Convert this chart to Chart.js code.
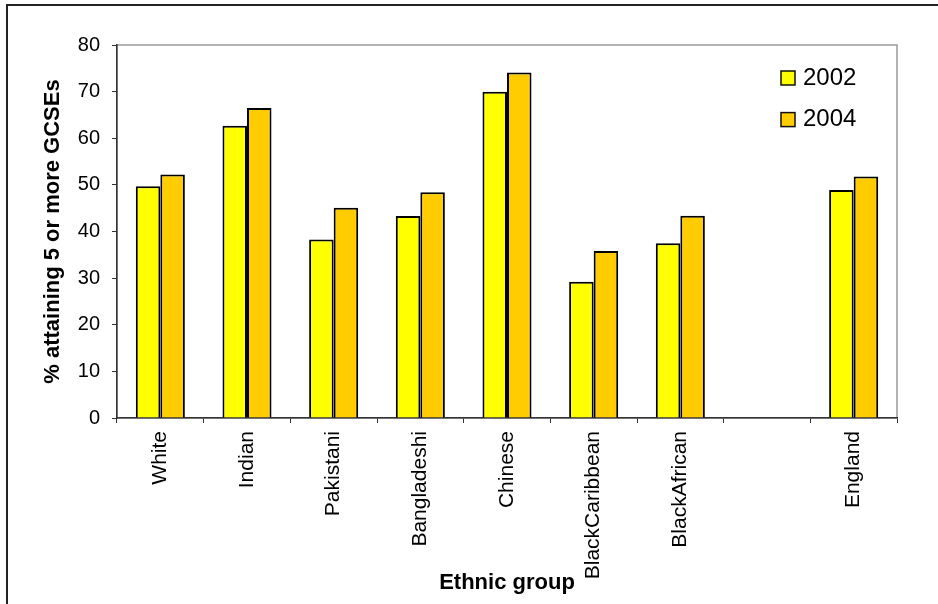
<!DOCTYPE html>
<html>
<head>
<meta charset="utf-8">
<script src="https://cdn.jsdelivr.net/npm/chart.js@4/dist/chart.umd.min.js"></script>
<style>
  html, body { margin: 0; padding: 0; background: #ffffff; }
  #wrap { width: 938px; height: 604px; position: relative; }
</style>
</head>
<body>
<div id="wrap"><canvas id="gcse" width="938" height="604"></canvas></div>
<script>
// Ethnic groups (the blank entry leaves a gap before the England total)
const categories = ['White', 'Indian', 'Pakistani', 'Bangladeshi', 'Chinese', 'BlackCaribbean', 'BlackAfrican', '', 'England'];
// % of pupils attaining 5 or more GCSEs
const pct2002 = [49.7, 62.7, 38.3, 43.3, 70.0, 29.2, 37.5, null, 48.9];
const pct2004 = [52.2, 66.5, 45.1, 48.4, 74.1, 35.8, 43.4, null, 51.8];
const seriesLabels = ['2002', '2004'];
const yTicks = [0, 10, 20, 30, 40, 50, 60, 70, 80];

const FONT = "'Liberation Sans', Arial, Helvetica, sans-serif";
const AXIS = '#333333';

// Frame, plot-area outline and the inset legend
const decorations = {
  id: 'decorations',
  beforeDraw(chart) {
    const { ctx, chartArea: a } = chart;
    ctx.save();
    // outer frame (left and top edges)
    ctx.strokeStyle = '#222222';
    ctx.lineWidth = 2;
    ctx.beginPath();
    ctx.moveTo(7, 604);
    ctx.lineTo(7, 5);
    ctx.lineTo(938, 5);
    ctx.stroke();
    // plot area outline
    ctx.strokeStyle = '#9a9a9a';
    ctx.lineWidth = 1.5;
    ctx.strokeRect(a.left, a.top, a.right - a.left, a.bottom - a.top);
    ctx.restore();
  },
  afterDraw(chart) {
    const { ctx } = chart;
    ctx.save();
    ctx.font = '24px ' + FONT;
    ctx.textBaseline = 'alphabetic';
    ctx.textAlign = 'left';
    chart.data.datasets.forEach((ds, i) => {
      const y = 71 + i * 41.6;
      ctx.fillStyle = ds.backgroundColor;
      ctx.fillRect(781, y, 14, 14);
      ctx.strokeStyle = '#111111';
      ctx.lineWidth = 1.5;
      ctx.strokeRect(781, y, 14, 14);
      ctx.fillStyle = '#000000';
      ctx.fillText(ds.label, 803, y + 13.5);
    });
    ctx.restore();
  }
};

new Chart(document.getElementById('gcse'), {
  type: 'bar',
  data: {
    labels: categories,
    datasets: [
      { label: seriesLabels[0], data: pct2002, backgroundColor: '#FFFF00', borderColor: '#000000', borderWidth: 2 },
      { label: seriesLabels[1], data: pct2004, backgroundColor: '#FFCC00', borderColor: '#000000', borderWidth: 2 }
    ]
  },
  options: {
    responsive: false,
    animation: false,
    devicePixelRatio: 1,
    layout: { padding: { left: 0, top: 45, right: 41, bottom: 0 } },
    datasets: { bar: { categoryPercentage: 0.566, barPercentage: 1.0, borderSkipped: 'start' } },
    plugins: {
      legend: { display: false },
      tooltip: { enabled: false },
      title: { display: false }
    },
    scales: {
      x: {
        afterFit(s) { s.height = 186; },
        grid: { offset: true, drawOnChartArea: false, drawTicks: true, tickLength: 5, color: AXIS, lineWidth: 1 },
        border: { display: true, color: AXIS, width: 1.5 },
        ticks: {
          autoSkip: false, maxRotation: 90, minRotation: 90, padding: 8,
          color: '#000000', font: { family: FONT, size: 21 }
        },
        title: {
          display: true, text: 'Ethnic group', color: '#000000',
          font: { family: FONT, size: 22, weight: 'bold' },
          padding: { top: 0, bottom: 8 }
        }
      },
      y: {
        min: 0, max: 80,
        afterFit(s) { s.width = 117; },
        afterBuildTicks(s) { s.ticks = yTicks.map(v => ({ value: v })); },
        grid: { drawOnChartArea: false, drawTicks: true, tickLength: 5, color: AXIS, lineWidth: 1 },
        border: { display: true, color: AXIS, width: 1.5 },
        ticks: { padding: 12, color: '#000000', font: { family: FONT, size: 20 } },
        title: {
          display: true, text: '% attaining 5 or more GCSEs', color: '#000000',
          font: { family: FONT, size: 22, weight: 'bold' },
          padding: { top: 40, bottom: 0 }
        }
      }
    }
  },
  plugins: [decorations]
});
</script>
</body>
</html>
